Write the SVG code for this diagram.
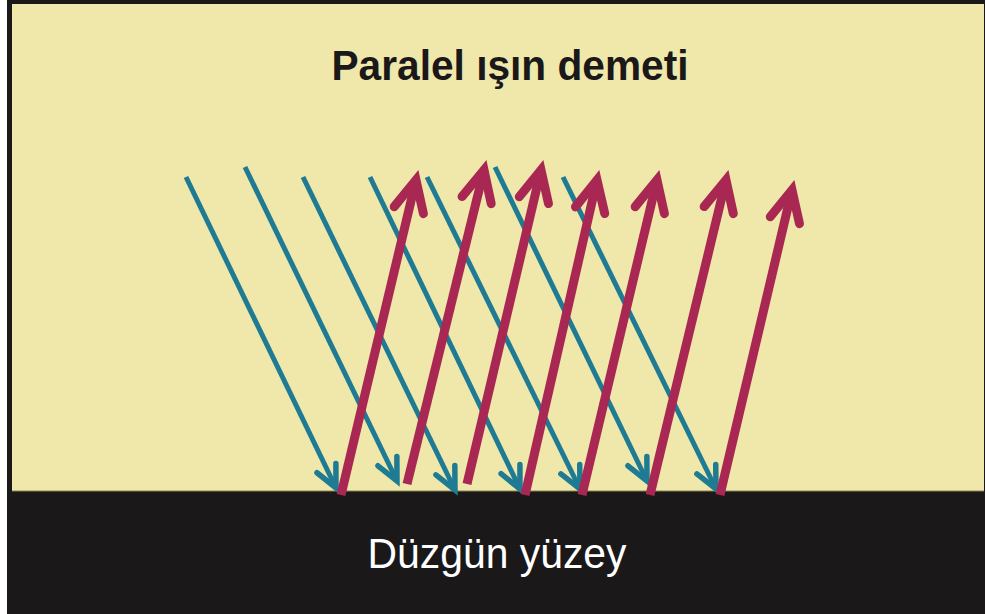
<svg xmlns="http://www.w3.org/2000/svg" width="985" height="614" viewBox="0 0 985 614">
  <style>
    .blue { stroke: #1f7a93; stroke-width: 5; fill: none; stroke-linecap: butt; }
    .red { stroke: #a82753; stroke-width: 9; fill: none; stroke-linecap: butt; }
    .title { font-family: "Liberation Sans", Arial, sans-serif; font-weight: bold; font-size: 43px; fill: #1a1819; }
    .label { font-family: "Liberation Sans", Arial, sans-serif; font-size: 42px; fill: #ffffff; }
  </style>
  <defs>
    <marker id="headBlue" markerUnits="userSpaceOnUse" orient="auto" markerWidth="40" markerHeight="40" refX="0" refY="0" viewBox="-30 -20 40 40" overflow="visible">
      <path d="M -22 -10.5 L 0 0 L -22 10.5" fill="none" stroke="#1f7a93" stroke-width="5.5" stroke-linecap="round" stroke-linejoin="miter"/>
    </marker>
    <marker id="headRed" markerUnits="userSpaceOnUse" orient="auto" markerWidth="60" markerHeight="60" refX="0" refY="0" viewBox="-40 -30 60 60" overflow="visible">
      <path d="M -31 -15 L 0 0 L -31 15" fill="none" stroke="#a82753" stroke-width="9" stroke-linecap="round" stroke-linejoin="miter"/>
    </marker>
  </defs>

  <rect x="0" y="0" width="985" height="614" fill="#ffffff"/>
  <g id="frame">
    <rect x="7" y="0" width="978" height="614" fill="#1a1819"/>
    <rect x="12" y="4" width="972" height="487" fill="#f0e8ab"/>
  </g>

  <g id="title">
    <text class="title" x="510" y="80" text-anchor="middle" textLength="357" lengthAdjust="spacingAndGlyphs">Paralel ışın demeti</text>
  </g>

  <g id="surface">
    <rect x="12" y="491" width="973" height="123" fill="#1a1819"/>
    <line x1="12" y1="491" x2="984" y2="491" stroke="#8a8450" stroke-width="1"/>
    <text class="label" x="497" y="568" text-anchor="middle" textLength="259" lengthAdjust="spacingAndGlyphs">Düzgün yüzey</text>
  </g>

  <g id="connectors">
    <g id="incident">
      <line class="blue" x1="186" y1="177" x2="336" y2="488" marker-end="url(#headBlue)"/>
      <line class="blue" x1="245" y1="167" x2="397" y2="481" marker-end="url(#headBlue)"/>
      <line class="blue" x1="303" y1="177" x2="455" y2="490" marker-end="url(#headBlue)"/>
      <line class="blue" x1="370" y1="177" x2="520" y2="489" marker-end="url(#headBlue)"/>
      <line class="blue" x1="427" y1="177" x2="580" y2="489" marker-end="url(#headBlue)"/>
      <line class="blue" x1="495" y1="167" x2="647" y2="481" marker-end="url(#headBlue)"/>
      <line class="blue" x1="563" y1="177" x2="716" y2="489" marker-end="url(#headBlue)"/>
    </g>
    <g id="reflected">
      <line class="red" x1="341" y1="495" x2="416" y2="180" marker-end="url(#headRed)"/>
      <line class="red" x1="407" y1="484" x2="484" y2="170" marker-end="url(#headRed)"/>
      <line class="red" x1="467" y1="484" x2="541" y2="170" marker-end="url(#headRed)"/>
      <line class="red" x1="525" y1="495" x2="597" y2="180" marker-end="url(#headRed)"/>
      <line class="red" x1="582" y1="495" x2="657" y2="180" marker-end="url(#headRed)"/>
      <line class="red" x1="650" y1="495" x2="726" y2="180" marker-end="url(#headRed)"/>
      <line class="red" x1="720" y1="495" x2="792" y2="190" marker-end="url(#headRed)"/>
    </g>
  </g>
</svg>
